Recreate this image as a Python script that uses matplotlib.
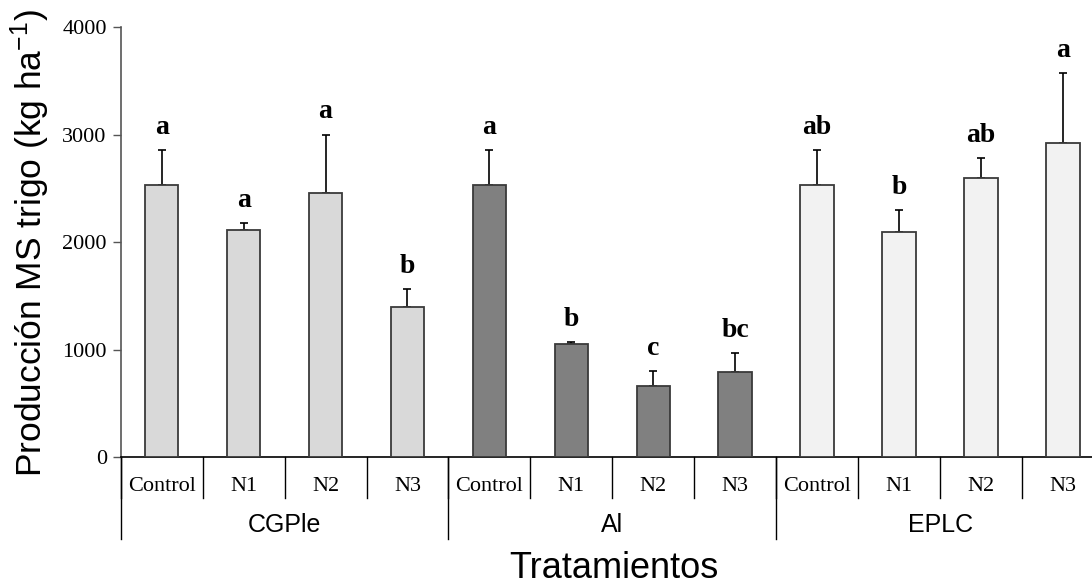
import matplotlib
matplotlib.use("Agg")
import matplotlib.pyplot as plt
import matplotlib.transforms as mtransforms
import numpy as np

# Wheat dry matter yield per treatment
groups = ["CGPle", "Al", "EPLC"]
doses = ["Control", "N1", "N2", "N3"]
means = [2535, 2115, 2455, 1400,
         2535, 1055, 660, 790,
         2535, 2090, 2600, 2925]
errs = [320, 60, 545, 165,
        320, 20, 145, 180,
        320, 205, 185, 650]
letters = ["a", "a", "a", "b",
           "a", "b", "c", "bc",
           "ab", "b", "ab", "a"]
group_colors = ["#d9d9d9", "#808080", "#f2f2f2"]

serif = "Liberation Serif"
sans = "Liberation Sans"
plt.rcParams["mathtext.fontset"] = "custom"
plt.rcParams["mathtext.rm"] = sans
plt.rcParams["mathtext.it"] = sans + ":italic"
plt.rcParams["mathtext.bf"] = sans + ":bold"

W, H = 1092, 587
fig = plt.figure(figsize=(W / 100, H / 100), dpi=100)
x0, x1, y0, y1 = 120.7, 1104.0, 457.3, 27.0
ax = fig.add_axes([x0 / W, (H - y0) / H, (x1 - x0) / W, (y0 - y1) / H])
ax_h = y0 - y1

n = len(means)
x = np.arange(n)
colors = [c for c in group_colors for _ in doses]

ax.bar(x, means, width=0.41, color=colors, edgecolor="#3a3a3a",
       linewidth=1.3, zorder=3)
ax.errorbar(x, means, yerr=[np.zeros(n), errs], fmt="none", ecolor="black",
            elinewidth=1.2, capsize=2.6, capthick=1.2, zorder=2)

for xi, m, e, lab in zip(x, means, errs, letters):
    ax.text(xi, m + e + 150, lab, ha="center", va="baseline",
            fontfamily=serif, fontweight="bold", fontsize=20)

ax.set_xlim(-0.5, n - 0.5)
ax.set_ylim(0, 4000)
ax.set_yticks([0, 1000, 2000, 3000, 4000])
ax.tick_params(axis="y", direction="out", length=6, width=1, color="#555555",
               labelsize=16, pad=4)
for t in ax.get_yticklabels():
    t.set_fontfamily(serif)
ax.set_xticks([])
ax.spines["top"].set_visible(False)
ax.spines["right"].set_visible(False)
ax.spines["left"].set_color("#555555")
ax.spines["left"].set_linewidth(1.2)
ax.spines["bottom"].set_color("black")
ax.spines["bottom"].set_linewidth(1.2)

# two-level category axis below the bars
trans = mtransforms.blended_transform_factory(ax.transData, ax.transAxes)
row1 = 41 / ax_h
row2 = 82 / ax_h
for b in np.arange(-0.5, n, 1.0):
    ax.plot([b, b], [0, -row1], transform=trans, color="black", lw=1,
            clip_on=False)
for b in np.arange(-0.5, n + 0.5, len(doses)):
    ax.plot([b, b], [0, -row2], transform=trans, color="black", lw=1,
            clip_on=False)
for i in range(n):
    ax.text(i, -29.5 / ax_h, doses[i % len(doses)], transform=trans,
            ha="center", va="center", fontfamily=serif, fontsize=16)
for g, name in enumerate(groups):
    cx = g * len(doses) + (len(doses) - 1) / 2
    ax.text(cx, -67.5 / ax_h, name, transform=trans, ha="center",
            va="center", fontfamily=sans, fontsize=18)

fig.text(614 / W, 1 / H, "Tratamientos", ha="center", va="bottom",
         fontfamily=sans, fontsize=26)
fig.text(30 / W, 1 - 243 / H, "Producción MS trigo (kg ha$^{-1}$)",
         rotation=90, ha="center", va="center", fontfamily=sans, fontsize=25.5)

fig.savefig("out.png", dpi=100)
